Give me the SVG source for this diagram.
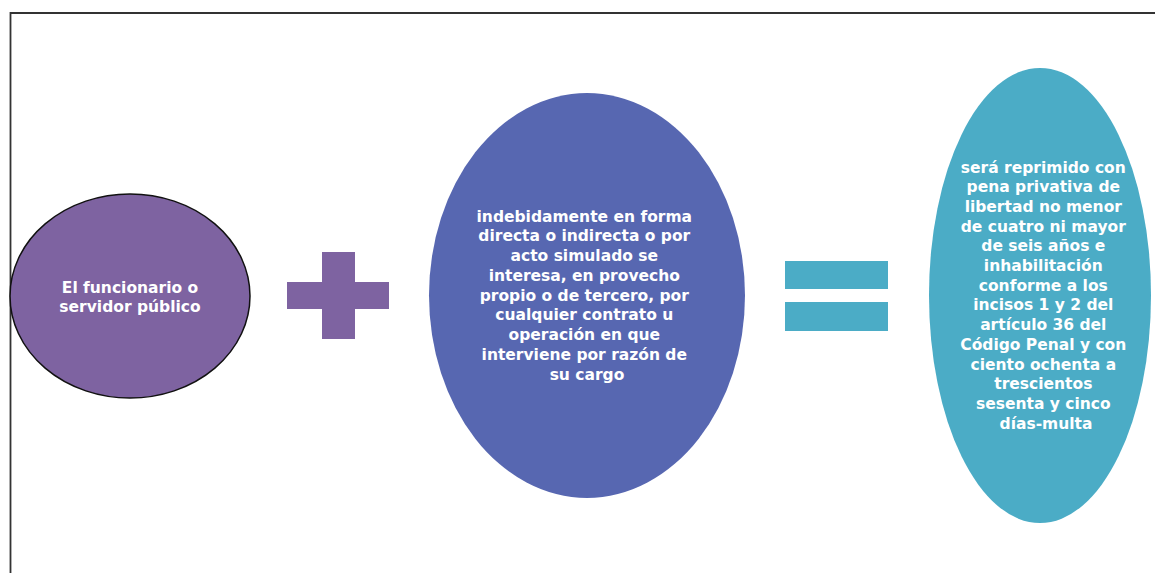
<svg xmlns="http://www.w3.org/2000/svg" width="1155" height="573" viewBox="0 0 1155 573">
<style>
.t{font-family:"DejaVu Sans","Liberation Sans",sans-serif;font-weight:bold;font-size:15.5px;fill:#ffffff;text-anchor:middle}
</style>
<rect x="0" y="0" width="1155" height="573" fill="#ffffff"/>
<g id="frame">
<path d="M10.5 573 V13 H1155" fill="none" stroke="#333333" stroke-width="1.8"/>
</g>
<g id="connectors">
<g id="plus" fill="#7E63A1">
<rect x="322" y="252" width="33" height="87"/>
<rect x="287" y="282" width="102" height="27"/>
</g>
<g id="equals" fill="#4BACC6">
<rect x="785" y="261" width="103" height="28"/>
<rect x="785" y="302" width="103" height="29"/>
</g>
</g>
<g id="node-sujeto">
<ellipse cx="130" cy="296" rx="120" ry="102" fill="#7E63A1" stroke="#111111" stroke-width="1.5"/>
<text class="t"><tspan x="130" y="292.5">El funcionario o</tspan><tspan x="130" y="311.5">servidor público</tspan></text>
</g>
<g id="node-conducta">
<ellipse cx="587" cy="295.5" rx="158" ry="202.5" fill="#5767B1"/>
<text class="t">
<tspan x="587" y="221.5">indebidamente en forma</tspan>
<tspan x="587" y="241.2">directa o indirecta o por</tspan>
<tspan x="587" y="261">acto simulado se</tspan>
<tspan x="587" y="280.7">interesa, en provecho</tspan>
<tspan x="587" y="300.5">propio o de tercero, por</tspan>
<tspan x="587" y="320.2">cualquier contrato u</tspan>
<tspan x="587" y="340">operación en que</tspan>
<tspan x="587" y="359.7">interviene por razón de</tspan>
<tspan x="587" y="379.5">su cargo</tspan>
</text>
</g>
<g id="node-pena">
<ellipse cx="1040" cy="295.5" rx="111" ry="227.5" fill="#4BACC6"/>
<text class="t">
<tspan x="1046" y="172.5">será reprimido con</tspan>
<tspan x="1046" y="192.2">pena privativa de</tspan>
<tspan x="1046" y="211.9">libertad no menor</tspan>
<tspan x="1046" y="231.6">de cuatro ni mayor</tspan>
<tspan x="1046" y="251.3">de seis años e</tspan>
<tspan x="1046" y="271">inhabilitación</tspan>
<tspan x="1046" y="290.7">conforme a los</tspan>
<tspan x="1046" y="310.4">incisos 1 y 2 del</tspan>
<tspan x="1046" y="330.1">artículo 36 del</tspan>
<tspan x="1046" y="349.8">Código Penal y con</tspan>
<tspan x="1046" y="369.5">ciento ochenta a</tspan>
<tspan x="1046" y="389.2">trescientos</tspan>
<tspan x="1046" y="408.9">sesenta y cinco</tspan>
<tspan x="1046" y="428.6">días-multa</tspan>
</text>
</g>
</svg>
